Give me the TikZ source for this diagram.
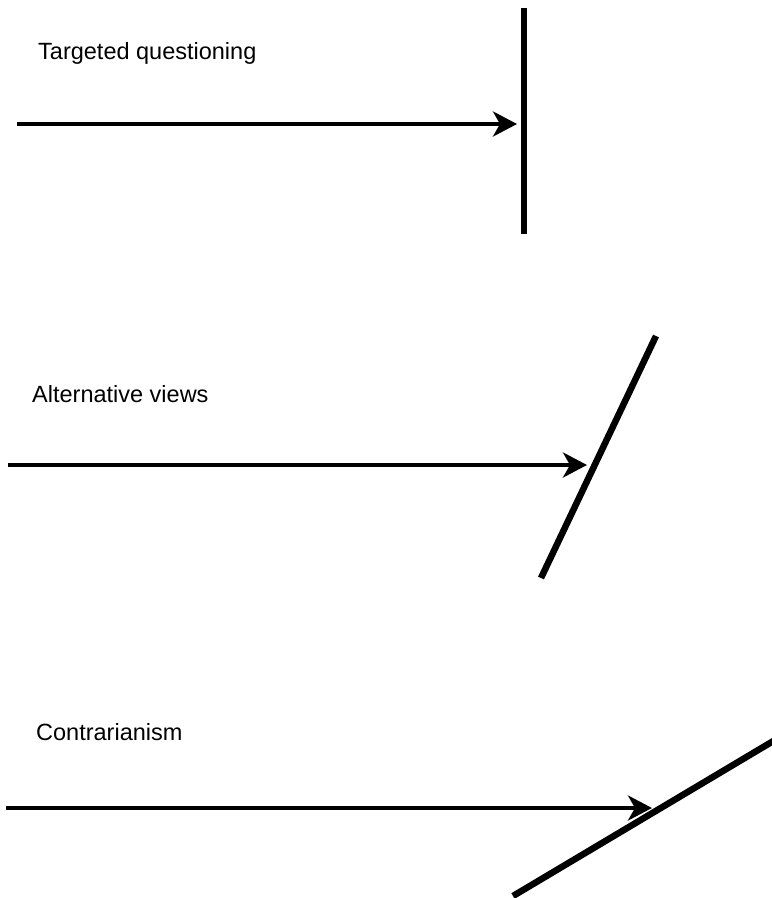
\documentclass[tikz,border=0pt]{standalone}
\usepackage{fontspec}
\setmainfont{Liberation Sans}
\usetikzlibrary{arrows.meta}
\begin{document}
\begin{tikzpicture}[x=1pt,y=-1pt,
  label/.style={anchor=base west,inner sep=0pt,font=\fontsize{23.5}{28}\selectfont},
  push/.style={line width=4pt,-{Stealth[length=24pt,width=25pt,inset=7pt]}},
  barrier/.style={line width=6.5pt}]
\useasboundingbox (0,0) rectangle (772,898);

% straight-on barrier
\node[label] (t1) at (38,59) {Targeted questioning};
\coordinate (s1) at (17,124);
\coordinate (e1) at (517,124);
\coordinate (b1a) at (524,8);
\coordinate (b1b) at (524,234);
\draw[barrier] (b1a) -- (b1b);
\draw[push] (s1) -- (e1);

% steep barrier
\node[label] (t2) at (32,402) {Alternative views};
\coordinate (s2) at (8,465);
\coordinate (e2) at (587,465);
\coordinate (b2a) at (656,336);
\coordinate (b2b) at (541,578);
\draw[barrier] (b2a) -- (b2b);
\draw[push] (s2) -- (e2);

% shallow barrier
\node[label] (t3) at (36,740) {Contrarianism};
\coordinate (s3) at (6,808);
\coordinate (e3) at (652,808);
\coordinate (b3a) at (775,740);
\coordinate (b3b) at (513,896);
\draw[barrier] (b3a) -- (b3b);
\draw[push] (s3) -- (e3);
\end{tikzpicture}
\end{document}
